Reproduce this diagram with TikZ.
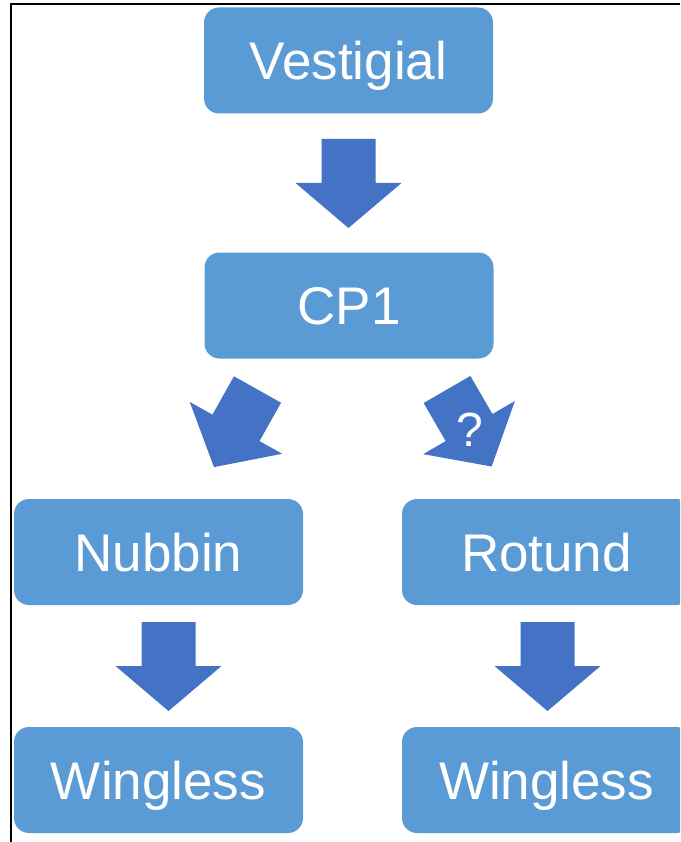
\documentclass[tikz,border=0pt]{standalone}
\usepackage{fontspec}
\setmainfont{Liberation Sans}
\definecolor{boxblue}{HTML}{5B9BD5}
\definecolor{arrowblue}{HTML}{4472C4}
\tikzset{
  genebox/.style={fill=boxblue, draw=none, rounded corners=15pt, text=white,
    minimum width=289pt, minimum height=106pt, inner sep=0pt,
    text height=38pt, text depth=0pt,
    font=\fontsize{53}{60}\selectfont},
  fatarrow/.style={fill=arrowblue, draw=none},
  frameline/.style={draw=black, line width=2pt}
}
\newcommand{\blockarrow}[2]{%
  \begin{scope}[shift={(#1)}, rotate=#2]
    \fill[fatarrow] (-27,0) -- (27,0) -- (27,44) -- (53,44) -- (0,89) -- (-53,44) -- (-27,44) -- cycle;
  \end{scope}}
\begin{document}
\begin{tikzpicture}[x=1pt,y=-1pt]
  \useasboundingbox (0,0) rectangle (680,842);
  \clip (0,0) rectangle (680,842);
  \fill[white] (0,0) rectangle (680,842);
  % frame
  \draw[frameline] (11,842) -- (11,4.5) -- (680,4.5);
  % boxes
  \node[genebox] (vest) at (348.5,60.5) {Vestigial};
  \node[genebox] (cp1) at (349,305.5) {CP1};
  \node[genebox] (nub) at (158.5,552) {Nubbin};
  \node[genebox] (rot) at (546.5,552) {Rotund};
  \node[genebox] (wingL) at (158.5,780) {Wingless};
  \node[genebox] (wingR) at (546.5,780) {Wingless};
  % arrow tails
  \coordinate (a1) at (348.5,139);
  \coordinate (a2) at (257.5,389.5);
  \coordinate (a3) at (447,389.5);
  \coordinate (a4) at (168.5,622);
  \coordinate (a5) at (547.5,622);
  \blockarrow{a1}{0}
  \blockarrow{a2}{-29.3}
  \blockarrow{a3}{30.1}
  \blockarrow{a4}{0}
  \blockarrow{a5}{0}
  \node[text=white, inner sep=0pt, text height=36pt, text depth=0pt,
        font=\fontsize{48}{56}\selectfont] (q) at (470,428) {?};
\end{tikzpicture}
\end{document}
